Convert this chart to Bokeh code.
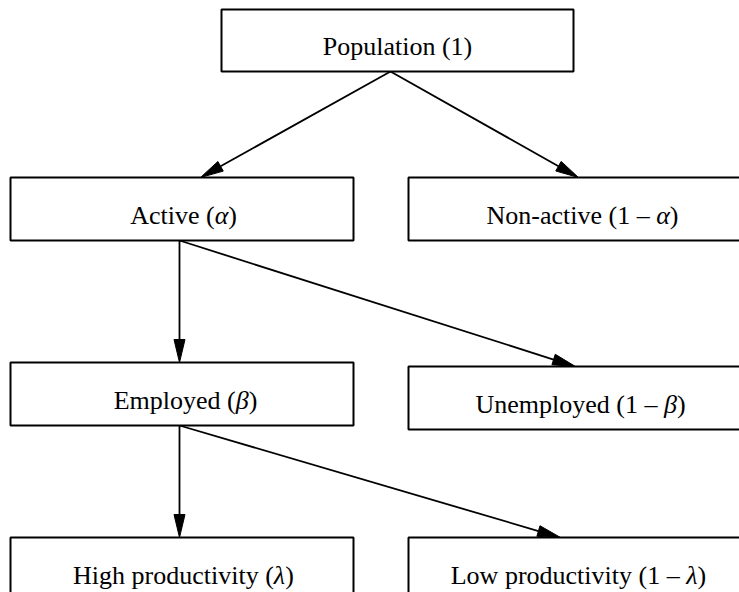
from bokeh.plotting import figure
from bokeh.models import Range1d
from bokeh.core.properties import value
from bokeh.embed import file_html
from bokeh.resources import INLINE
import math

# ---- data ----
node_names = ["Population", "Active", "Non-active", "Employed", "Unemployed",
              "High productivity", "Low productivity"]
node_shares = [("1", ""), ("", "α"), ("1 – ", "α"), ("", "β"), ("1 – ", "β"),
               ("", "λ"), ("1 – ", "λ")]
edges = [(0, 1), (0, 2), (1, 3), (1, 4), (3, 5), (3, 6)]

# ---- layout (page pixel coordinates) ----
box_l = [221, 10, 408, 10, 408, 10, 408]
box_r = [573, 353, 752, 353, 752, 353, 752]
box_t = [9, 177, 177, 362, 366, 537, 537]
box_b = [71, 240, 240, 425, 429, 600, 600]
text_cx = [397, 183, 582, 185, 580, 183, 578]
text_dy = 6
edge_start = [(390, 71), (390, 71), (179, 240), (179, 240), (179, 425), (179, 425)]
edge_end = [(200, 177), (578, 177), (179, 362), (575, 366), (179, 537), (560, 537)]

FS = 26
W = {' ': 250, '(': 333, ')': 333, '-': 333, '–': 500, '1': 500,
     'A': 722, 'E': 611, 'H': 722, 'L': 611, 'N': 722, 'P': 556, 'U': 722,
     'a': 444, 'b': 500, 'c': 444, 'd': 500, 'e': 444, 'f': 333, 'g': 500,
     'h': 500, 'i': 278, 'j': 278, 'k': 500, 'l': 278, 'm': 778, 'n': 500,
     'o': 500, 'p': 500, 'q': 500, 'r': 333, 's': 389, 't': 278, 'u': 500,
     'v': 500, 'w': 722, 'x': 500, 'y': 500, 'z': 444,
     'α': 520, 'β': 500, 'λ': 440}


def tw(s):
    return sum(W.get(c, 500) for c in s) / 1000.0 * FS


p = figure(width=739, height=592, x_range=Range1d(0, 739), y_range=Range1d(592, 0),
           output_backend="svg", toolbar_location=None, min_border=0,
           x_axis_location=None, y_axis_location=None)
p.grid.visible = False
p.outline_line_color = None
p.background_fill_color = "white"
p.border_fill_color = "white"

# edges
sx = [s[0] for s in edge_start]
sy = [s[1] for s in edge_start]
HL, HW = 23, 5.5
lx1, ly1, hxs, hys = [], [], [], []
for (x0, y0), (x1, y1) in zip(edge_start, edge_end):
    d = math.hypot(x1 - x0, y1 - y0)
    ux, uy = (x1 - x0) / d, (y1 - y0) / d
    bx, by = x1 - ux * HL, y1 - uy * HL
    nx, ny = -uy, ux
    lx1.append(bx)
    ly1.append(by)
    hxs.append([x1, bx + nx * HW, bx - nx * HW])
    hys.append([y1, by + ny * HW, by - ny * HW])
p.segment(x0=sx, y0=sy, x1=lx1, y1=ly1, line_color="black", line_width=1.8)
p.patches(xs=hxs, ys=hys, fill_color="black", line_color="black", line_width=1)

# boxes
p.quad(left=box_l, right=box_r, top=box_t, bottom=box_b,
       fill_color="white", line_color="black", line_width=2)

# labels
nx_, ny_, nt = [], [], []
ix_, iy_, it = [], [], []
for i, name in enumerate(node_names):
    pre, greek = node_shares[i]
    segs = [(name + " (" + pre, False)]
    if greek:
        segs.append((greek, True))
    segs.append((")", False))
    total = sum(tw(s) for s, _ in segs)
    x = text_cx[i] - total / 2
    cy = (box_t[i] + min(box_b[i], box_t[i] + 63)) / 2 + text_dy
    for s, ital in segs:
        if ital:
            ix_.append(x); iy_.append(cy); it.append(s)
        else:
            nx_.append(x); ny_.append(cy); nt.append(s)
        x += tw(s)

p.text(x=nx_, y=ny_, text=nt, text_font=value("Liberation Serif"),
       text_font_size=f"{FS}px", text_align="left", text_baseline="middle",
       text_color="black")
p.text(x=ix_, y=iy_, text=it, text_font=value("Liberation Serif"),
       text_font_size=f"{FS}px", text_align="left", text_baseline="middle",
       text_font_style="italic", text_color="black")

open("out.html", "w").write(file_html(p, INLINE))
